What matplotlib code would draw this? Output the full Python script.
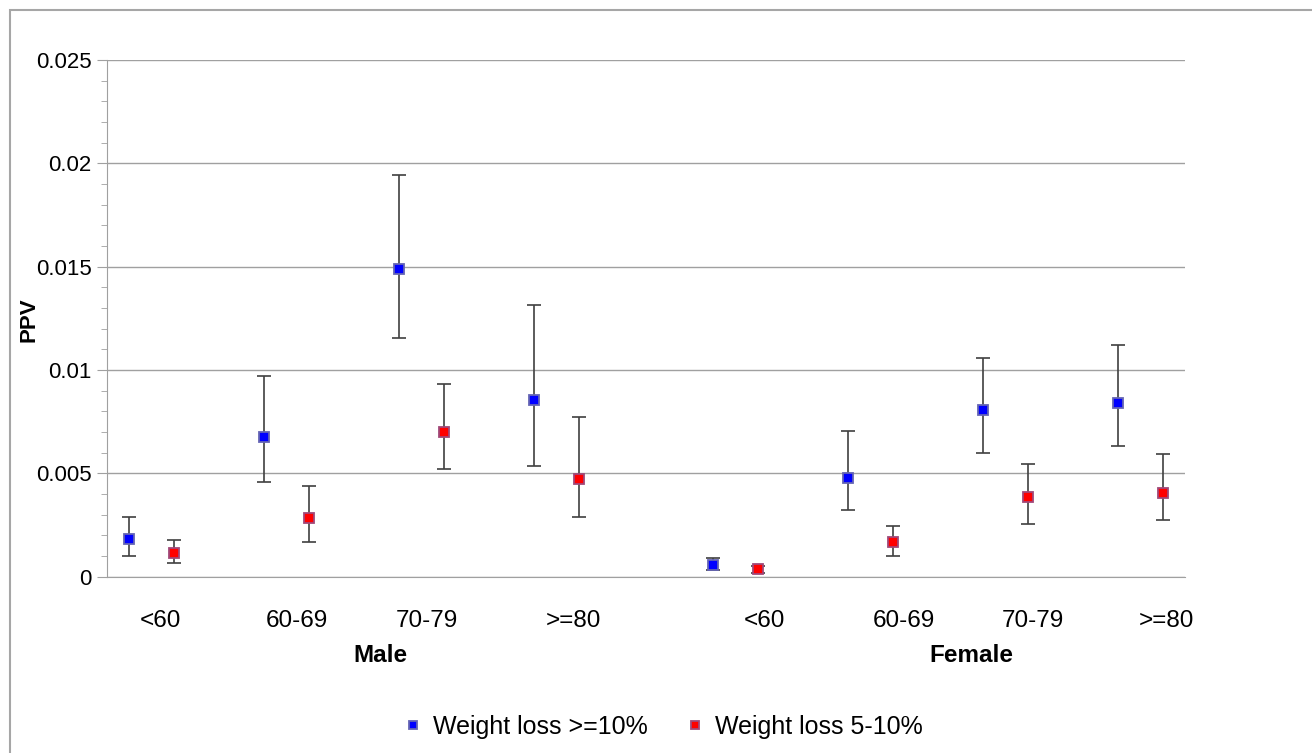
import numpy as np
import matplotlib
matplotlib.use('Agg')
import matplotlib.pyplot as plt
import matplotlib.transforms as mtrans
from matplotlib.patches import Rectangle
from matplotlib.ticker import MultipleLocator

plt.rcParams['font.family'] = ['Liberation Sans', 'DejaVu Sans']

# PPV by age group, point estimate with lower / upper CI
age_groups = ['<60', '60-69', '70-79', '>=80']
sexes = ['Male', 'Female']

male_wl10 = [0.0018, 0.00675, 0.0149, 0.00853]
male_wl10_lo = [0.00101, 0.00458, 0.01153, 0.00535]
male_wl10_hi = [0.00289, 0.00969, 0.01942, 0.01315]
male_wl5 = [0.00114, 0.00285, 0.00699, 0.00471]
male_wl5_lo = [0.00068, 0.00169, 0.00519, 0.00289]
male_wl5_hi = [0.00177, 0.00441, 0.00934, 0.00771]

female_wl10 = [0.00056, 0.00479, 0.00806, 0.00841]
female_wl10_lo = [0.00032, 0.00322, 0.00597, 0.00631]
female_wl10_hi = [0.00092, 0.00704, 0.0106, 0.0112]
female_wl5 = [0.00037, 0.00166, 0.00386, 0.00404]
female_wl5_lo = [0.00018, 0.00101, 0.00254, 0.00272]
female_wl5_hi = [0.00052, 0.00246, 0.00545, 0.00595]

series_names = ['Weight loss >=10%', 'Weight loss 5-10%']

# layout: 24 category slots, each age group uses two slots, gap slot between groups
n_slots = 24
group_start = {'Male': 0, 'Female': 13}
group_step = 3
# hand placed text boxes for the age labels (offset from first slot of each group)
label_offset_male = [1.18, 1.23, 1.13, 1.38]
label_offset_female = [1.63, 1.74, 1.62, 1.58]
sex_label_x = [6.08, 19.24]

blue = '#0000FF'
red = '#FF0000'
err_col = '#404040'
grid_col = '#a0a0a0'

fig = plt.figure(figsize=(13.12, 7.53), dpi=100)
ax = fig.add_axes([107/1312, 1-576.7/753, (1185-107)/1312, (576.7-60)/753])

def slots(sex):
    return np.array([group_start[sex] + group_step*i for i in range(len(age_groups))])

data = {
    'Male': [(male_wl10, male_wl10_lo, male_wl10_hi), (male_wl5, male_wl5_lo, male_wl5_hi)],
    'Female': [(female_wl10, female_wl10_lo, female_wl10_hi), (female_wl5, female_wl5_lo, female_wl5_hi)],
}
colors = [blue, red]
edges = ['#6464b4', '#a04878']

for sex in sexes:
    base = slots(sex)
    for k, (val, lo, hi) in enumerate(data[sex]):
        x = base + k + 0.5
        val = np.array(val); lo = np.array(lo); hi = np.array(hi)
        ax.errorbar(x, val, yerr=[val-lo, hi-val], fmt='none', ecolor=err_col,
                    elinewidth=1.2, capsize=4.8, capthick=1.2, zorder=3)
        ax.plot(x, val, 's', ms=7.2, mfc=colors[k], mec=edges[k], mew=1.3,
                linestyle='none', zorder=4, label=series_names[k] if sex == 'Male' else None)

ax.set_xlim(0, n_slots)
ax.set_ylim(0, 0.025)
ax.yaxis.set_minor_locator(MultipleLocator(0.001))
ax.set_yticks([0, 0.005, 0.01, 0.015, 0.02, 0.025])
ax.set_yticklabels(['0', '0.005', '0.01', '0.015', '0.02', '0.025'])
ax.grid(axis='y', which='major', color=grid_col, linewidth=1.0)
ax.set_axisbelow(True)
ax.set_xticks([])
for s in ['top', 'right']:
    ax.spines[s].set_visible(False)
ax.spines['left'].set_color(grid_col)
ax.spines['bottom'].set_color(grid_col)
ax.tick_params(axis='y', which='major', length=7, color=grid_col, labelsize=16, pad=4)
ax.tick_params(axis='y', which='minor', length=4, color=grid_col)

fig.text(29/1312, 1 - 320/753, 'PPV', rotation=90, ha='center', va='center',
         fontsize=16, fontweight='bold')

# age labels and sex labels below the axis
below = mtrans.blended_transform_factory(ax.transData, fig.transFigure)
lab_y = 1 - 621/753
for i, g in enumerate(age_groups):
    xm = slots('Male')[i] + label_offset_male[i]
    xf = slots('Female')[i] + label_offset_female[i]
    ax.text(xm, lab_y, g, transform=below, ha='center', va='center', fontsize=17.5)
    ax.text(xf, lab_y, g, transform=below, ha='center', va='center', fontsize=17.5)
for sx, name in zip(sex_label_x, sexes):
    ax.text(sx, 1 - 655/753, name, transform=below,
            ha='center', va='center', fontsize=17.5, fontweight='bold')

leg = fig.legend(loc='center', bbox_to_anchor=(664/1312, 1 - 727/753), ncol=2, frameon=False,
                 fontsize=18, handlelength=0.6, handletextpad=0.5, columnspacing=1.6,
                 markerscale=0.85)

# outer chart border (cut off at right and bottom)
fig.patches.append(Rectangle((10/1312, -0.1), 1.2, 1 - 10/753 + 0.1, transform=fig.transFigure,
                             fill=False, edgecolor='#a6a6a6', linewidth=1.5))

fig.savefig('out.png', dpi=100)
